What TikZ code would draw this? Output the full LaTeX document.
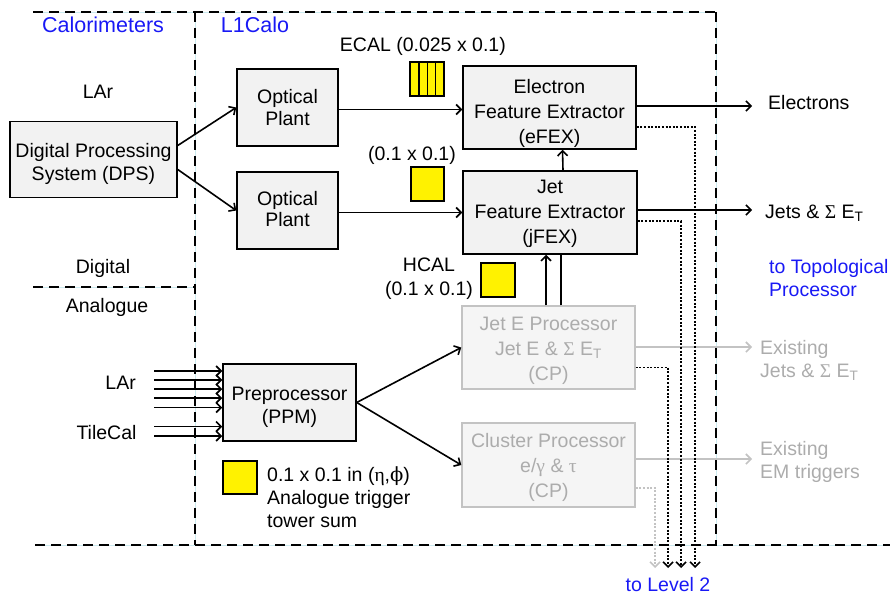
\documentclass[tikz,border=0pt]{standalone}
\usepackage{fontspec}
\setmainfont{Liberation Sans}
\newfontfamily\grk{Liberation Serif}
\newfontfamily\grkalt{DejaVu Serif}
\usetikzlibrary{arrows.meta}
\definecolor{boxfill}{RGB}{242,242,242}
\definecolor{ghostline}{RGB}{195,195,195}
\definecolor{ghosttext}{RGB}{172,172,172}
\definecolor{ghostfill}{RGB}{245,245,245}
\definecolor{zoneblue}{RGB}{25,25,245}
\definecolor{guide}{RGB}{205,235,240}
\newcommand{\EtLabel}{{\grk Σ} E\textsubscript{T}}
\begin{document}
\begin{tikzpicture}[x=1pt,y=-1pt,
  txt/.style={font=\fontsize{19.5}{24}\selectfont, inner sep=0pt},
  lines/.style={font=\fontsize{19.5}{#1}\selectfont},
  heading/.style={font=\fontsize{21.5}{26}\selectfont, inner sep=0pt, text=zoneblue},
  bluenote/.style={txt, text=zoneblue, align=left},
  box/.style={draw, line width=1.5pt, fill=boxfill, inner sep=0pt},
  ghostbox/.style={box, draw=ghostline, fill=ghostfill},
  boxtext/.style={txt, align=center},
  ghosttxt/.style={boxtext, text=ghosttext},
  tower/.style={draw, line width=1.3pt, fill=yellow, inner sep=0pt},
  barbtip/.style={-{Straight Barb[length=5pt,width=10pt]}},
  wire/.style={line width=1.6pt},
  link/.style={wire, barbtip},
  ghostlink/.style={link, draw=ghostline},
  l2link/.style={link, dash pattern=on 2pt off 1.6pt},
  zone/.style={line width=1.8pt, dash pattern=on 10pt off 6pt},
  guideline/.style={guide, line width=0.6pt},
]
\useasboundingbox (0,0) rectangle (890,596);

% region boundaries
\foreach \a/\b in {{33,12}/{716,12},{195,12}/{195,545},{33,287}/{195,287},{716,12}/{716,545},{35,545}/{890,545}}{
  \draw[guideline] (\a) -- (\b);
  \draw[zone] (\a) -- (\b);
}

% region headings
\node[heading] (hcalo) at (103,25) {Calorimeters};
\node[heading] (hl1) at (255,25) {L1Calo};
\node[txt] (lar1) at (98,92) {LAr};
\node[txt] (digital) at (103,268) {Digital};
\node[txt] (analogue) at (107,307) {Analogue};

% main blocks
\node[box, minimum width=167pt, minimum height=76pt] (dps) at (93.5,159.5) {};
\node[boxtext, lines=23] (dpstxt) at ([yshift=-4pt]dps.center) {Digital Processing\\System (DPS)};
\node[box, minimum width=101pt, minimum height=77pt] (opt1) at (287.5,107.5) {};
\node[boxtext, lines=22] (opt1txt) at (opt1.center) {Optical\\Plant};
\node[box, minimum width=101pt, minimum height=77pt] (opt2) at (287.5,210.5) {};
\node[boxtext, lines=21] (opt2txt) at ([yshift=1.5pt]opt2.center) {Optical\\Plant};
\node[box, minimum width=173pt, minimum height=83pt] (efex) at (549.5,107.5) {};
\node[boxtext, lines=25] (efextxt) at ([yshift=-6pt]efex.center) {Electron\\Feature Extractor\\(eFEX)};
\node[box, minimum width=174pt, minimum height=83pt] (jfex) at (550,212.5) {};
\node[boxtext, lines=25] (jfextxt) at ([yshift=-1.5pt]jfex.center) {Jet\\Feature Extractor\\(jFEX)};
\node[ghostbox, minimum width=173pt, minimum height=83pt] (jep) at (548.5,347.5) {};
\node[ghosttxt, lines=25] (jeptxt) at ([yshift=-3pt]jep.center) {Jet E Processor\\Jet E \& \EtLabel\\(CP)};
\node[ghostbox, minimum width=173pt, minimum height=84pt] (cp) at (548.5,465) {};
\node[ghosttxt, lines=25] (cptxt) at ([yshift=-2.5pt]cp.center) {Cluster Processor\\e/{\grk γ} \& {\grk τ}\\(CP)};
\node[box, minimum width=133pt, minimum height=77pt] (ppm) at (289.5,402.5) {};
\node[boxtext, lines=23.3] (ppmtxt) at ([yshift=-5pt]ppm.center) {Preprocessor\\(PPM)};

% trigger tower granularity
\node[tower, minimum width=34pt, minimum height=34pt] (ecal) at (427,79) {};
\foreach \dx in {-8,0.5,8.5}
  \draw[line width=1.3pt] ([xshift=\dx pt]ecal.north) -- ([xshift=\dx pt]ecal.south);
\node[txt, anchor=east] (ecaltxt) at (506,46.5) {ECAL (0.025 x 0.1)};
\node[tower, minimum width=33pt, minimum height=34pt] (jtower) at (427.5,184) {};
\node[txt, anchor=east] (jtowertxt) at (456,155) {(0.1 x 0.1)};
\node[tower, minimum width=34pt, minimum height=34pt] (hcal) at (498,280) {};
\node[txt, align=center] (hcaltxt) at (429,279) {HCAL\\(0.1 x 0.1)};
\node[tower, minimum width=34pt, minimum height=33pt] (legend) at (240,477.5) {};
\node[txt, anchor=west, align=left, lines=23] (legendtxt) at (267,497)
  {0.1 x 0.1 in ({\grk η},{\grkalt ϕ})\\Analogue trigger\\tower sum};

% inputs to the preprocessor
\node[txt, anchor=east] (lar2) at (136,382.5) {LAr};
\node[txt, anchor=east] (tile) at (136.7,432.5) {TileCal};
\foreach \y in {371,380,389,398,407.5,426.5,436}
  \draw[link] (ppm.west |- 0,\y) ++(-68,0) -- (ppm.west |- 0,\y);

% outputs
\node[txt, anchor=west] (elec) at (768,103) {Electrons};
\node[txt, anchor=west] (jets) at (765,213) {Jets \& \EtLabel};
\node[bluenote, anchor=west, lines=23] (topo) at (769,278.5) {to Topological\\Processor};
\node[txt, anchor=west, align=left, text=ghosttext, lines=23] (oldjets) at (760,360) {Existing\\Jets \& \EtLabel};
\node[txt, anchor=west, align=left, text=ghosttext, lines=23] (oldem) at (760,461.5) {Existing\\EM triggers};
\node[bluenote] (lvl2) at (668,585) {to Level 2};

\coordinate (elecend) at (752,106);
\coordinate (jetsend) at (752,210);
\coordinate (oldjetsend) at (752,347);
\coordinate (oldemend) at (752,459);
\coordinate (l2a) at (655,568);
\coordinate (l2b) at (668,568);
\coordinate (l2c) at (681,568);
\coordinate (l2d) at (695,568);

% digital path
\draw[link] ([yshift=14pt]dps.east) -- (opt1.west);
\draw[link] ([yshift=-10pt]dps.east) -- (opt2.west);
\draw[link] ([yshift=-2pt]opt1.east) -- ([yshift=-2pt]efex.west);
\draw[link] ([yshift=-2pt]opt2.east) -- (jfex.west);
\draw[link] ([xshift=13pt]jfex.north) -- ([xshift=13pt]efex.south);
\draw[link] ([xshift=-2.5pt]jep.north) -- ([xshift=-4pt]jfex.south);
\draw[wire] ([xshift=12.5pt]jep.north) -- ([xshift=11pt]jfex.south);
\draw[link] ([yshift=1.5pt]efex.east) -- (elecend);
\draw[link] ([yshift=2.5pt]jfex.east) -- (jetsend);

% analogue path
\draw[link] (ppm.east) -- (jep.west);
\draw[link] (ppm.east) -- (cp.west);
\draw[ghostlink] ([yshift=0.5pt]jep.east) -- (oldjetsend);
\draw[ghostlink] ([yshift=6pt]cp.east) -- (oldemend);

% readout to level 2
\draw[l2link] ([yshift=-19.5pt]efex.east) -| (l2d);
\draw[l2link] ([yshift=-8.5pt]jfex.east) -| (l2c);
\draw[l2link] ([yshift=-20pt]jep.east) -| (l2b);
\draw[l2link, draw=ghostline] ([yshift=-23pt]cp.east) -| (l2a);
\end{tikzpicture}
\end{document}
